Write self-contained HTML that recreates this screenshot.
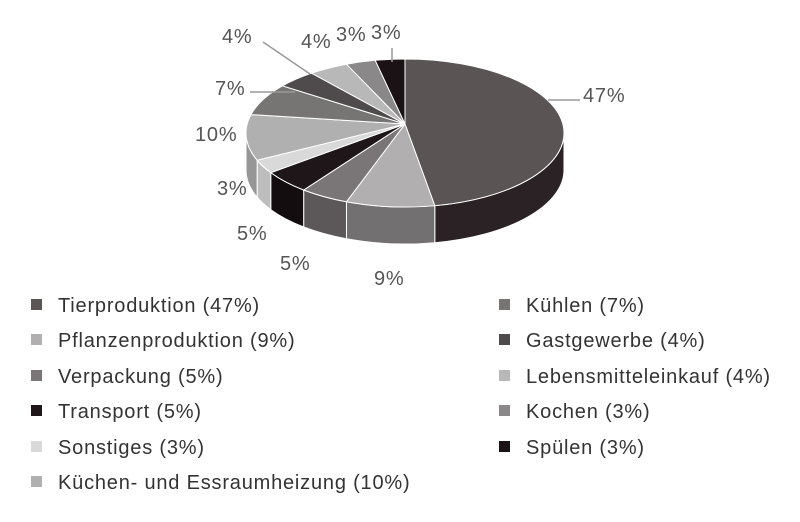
<!DOCTYPE html><html><head><meta charset="utf-8"><style>
body{margin:0;background:#fff;width:800px;height:517px;overflow:hidden;font-family:"Liberation Sans",sans-serif}
</style></head><body>
<svg id="s" width="800" height="517" xmlns="http://www.w3.org/2000/svg" font-family="Liberation Sans, sans-serif"></svg>
<script>
const s=document.getElementById('s');
const cx=405,cy=133,rx=159,ry=74,d=37,ax=405,ay=124;
const data=[[47,'#5a5455','#2a2224'],[9,'#b2afb1','#727071'],[5,'#7a7677','#5c5758'],[5,'#1e1618','#140d0f'],[3,'#d9d9d9','#bdbdbd'],[10,'#b0b0b0','#969696'],[7,'#777474','#5e5b5b'],[4,'#4f4a4b','#3b3738'],[4,'#b8b8b8','#999'],[3,'#8a8888','#6e6e6e'],[3,'#1a1214','#100a0b']];
function P(t,dy){t=t*Math.PI/180;return [cx+rx*Math.sin(t),cy-ry*Math.cos(t)+(dy||0)];}
let h='';let t=0;const segs=[];
data.forEach(r=>{const a=t,b=t+r[0]*3.6;segs.push([a,b,r]);t=b;});
segs.forEach(([a,b,r])=>{let lo=Math.max(a,90),hi=Math.min(b,270);if(hi<=lo)return;
const p1=P(lo),p2=P(hi),p3=P(hi,d),p4=P(lo,d);
h+=`<path d="M${p1} A${rx} ${ry} 0 0 1 ${p2} L${p3} A${rx} ${ry} 0 0 0 ${p4} Z" fill="${r[2]}" stroke="#fff" stroke-width="1"/>`;});
segs.forEach(([a,b,r])=>{const p1=P(a),p2=P(b);const lg=(b-a)>180?1:0;
h+=`<path d="M${ax},${ay} L${p1} A${rx} ${ry} 0 ${lg} 1 ${p2} Z" fill="${r[1]}" stroke="#fff" stroke-width="1"/>`;});
const L=[[[548,100],[580,100]],[[263,42],[310,74]],[[250,92],[295,92]],[[392,48],[392,62]]];
L.forEach(l=>h+=`<polyline points="${l.join(' ')}" fill="none" stroke="#999" stroke-width="1.5"/>`);
const labs=[['47%',583,102],['9%',374,285],['5%',280,270],['5%',237,240],['3%',217,195],['10%',195,141],['7%',215,95],['4%',222,43],['4%',301,48],['3%',336,41],['3%',371,39]];
labs.forEach(l=>h+=`<text x="${l[1]}" y="${l[2]}" font-size="20" letter-spacing="0.8" fill="#555">${l[0]}</text>`);
const leg=[['#5a5455','Tierproduktion (47%)'],['#b2afb1','Pflanzenproduktion (9%)'],['#7a7677','Verpackung (5%)'],['#1e1618','Transport (5%)'],['#d9d9d9','Sonstiges (3%)'],['#b0b0b0','Küchen- und Essraumheizung (10%)']];
const leg2=[['#777474','Kühlen (7%)'],['#4f4a4b','Gastgewerbe (4%)'],['#b8b8b8','Lebensmitteleinkauf (4%)'],['#8a8888','Kochen (3%)'],['#1a1214','Spülen (3%)']];
const ys=[305,340,376,411,447,482];
leg.forEach((l,i)=>{h+=`<rect x="31" y="${ys[i]-6}" width="11" height="11" fill="${l[0]}"/><text x="58" y="${ys[i]+7}" font-size="20" letter-spacing="0.8" fill="#333">${l[1]}</text>`;});
leg2.forEach((l,i)=>{h+=`<rect x="499" y="${ys[i]-6}" width="11" height="11" fill="${l[0]}"/><text x="526" y="${ys[i]+7}" font-size="20" letter-spacing="0.8" fill="#333">${l[1]}</text>`;});
s.innerHTML=h;
</script>
</body></html>
